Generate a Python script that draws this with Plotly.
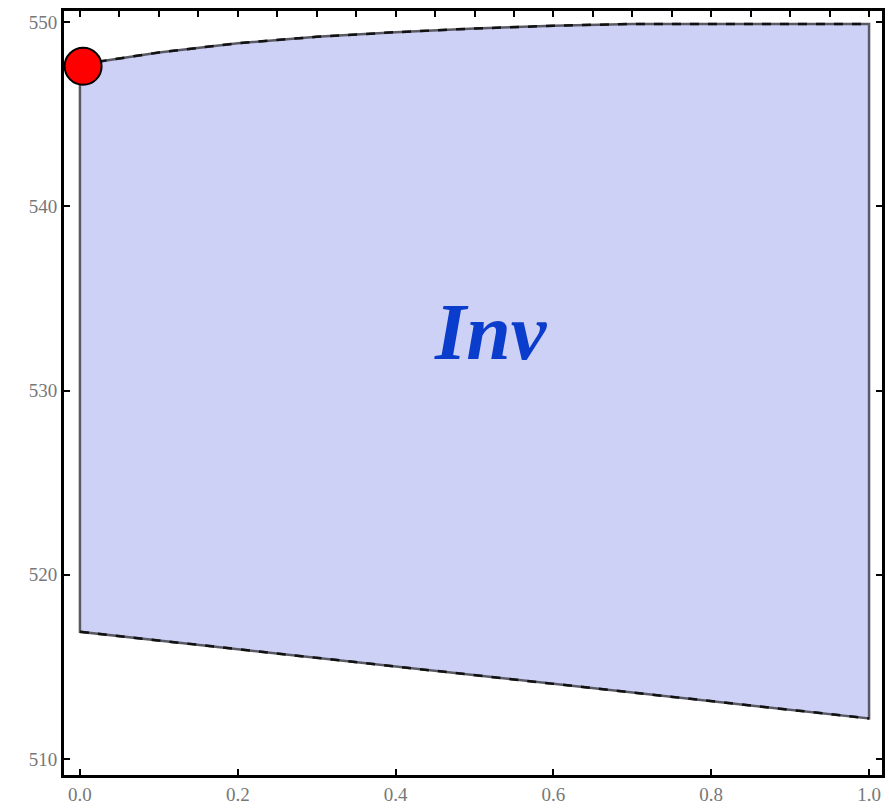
import plotly.graph_objects as go

# Upper boundary of the invariant region
top_x = [0.0, 0.1, 0.2, 0.3, 0.4, 0.5, 0.6, 0.7, 0.8, 0.9, 1.0]
top_y = [547.7, 548.35, 548.85, 549.2, 549.45, 549.65, 549.8, 549.9, 549.9, 549.9, 549.9]
# Lower boundary
bot_x = [0.0, 1.0]
bot_y = [516.9, 512.2]

point_x = [0.004]
point_y = [547.6]

x_ticks = [0.0, 0.2, 0.4, 0.6, 0.8, 1.0]
x_tick_labels = ["0.0", "0.2", "0.4", "0.6", "0.8", "1.0"]
y_ticks = [510, 520, 530, 540, 550]
y_tick_labels = ["510", "520", "530", "540", "550"]

poly_x = top_x + bot_x[::-1] + [top_x[0]]
poly_y = top_y + bot_y[::-1] + [top_y[0]]

fig = go.Figure()
fig.add_trace(go.Scatter(
    x=poly_x, y=poly_y, mode="lines", fill="toself",
    fillcolor="#cdd1f6", line=dict(color="#5a5a66", width=2.5),
    hoverinfo="skip", showlegend=False))
# dashed dark overlay on the curved edges
fig.add_trace(go.Scatter(
    x=top_x, y=top_y, mode="lines",
    line=dict(color="#111111", width=2.5, dash="dash"),
    hoverinfo="skip", showlegend=False))
fig.add_trace(go.Scatter(
    x=bot_x, y=bot_y, mode="lines",
    line=dict(color="#111111", width=2.5, dash="dash"),
    hoverinfo="skip", showlegend=False))
fig.add_trace(go.Scatter(
    x=point_x, y=point_y, mode="markers",
    marker=dict(color="#ff0000", size=37, line=dict(color="black", width=2)),
    cliponaxis=False, showlegend=False))
# invisible trace for top minor-tick axis
fig.add_trace(go.Scatter(x=[0, 1], y=[530, 530], xaxis="x2", mode="lines",
                         line=dict(width=0), hoverinfo="skip", showlegend=False))

fig.add_annotation(x=0.521, y=533.2, text="<b><i>Inv</i></b>", showarrow=False,
                   font=dict(family="Liberation Serif", size=80, color="#0b3dcc"))

tickfont = dict(family="Liberation Serif", size=19, color="#777777")
fig.update_layout(
    width=889, height=810,
    margin=dict(l=64, r=4, t=11, b=35),
    plot_bgcolor="white", paper_bgcolor="white",
    xaxis=dict(range=[-0.0202, 1.0164], tickvals=x_ticks, ticktext=x_tick_labels,
               ticks="inside", ticklen=6, tickwidth=2, tickcolor="black",
               showline=True, linecolor="black", linewidth=3, mirror=True,
               showgrid=False, zeroline=False, tickfont=tickfont),
    xaxis2=dict(range=[-0.0202, 1.0164], overlaying="x", side="top",
                tick0=0, dtick=0.05, ticks="inside", ticklen=6, tickwidth=2,
                tickcolor="black", showticklabels=False, showgrid=False,
                zeroline=False, showline=False),
    yaxis=dict(range=[509.13, 550.6], tickvals=y_ticks, ticktext=y_tick_labels,
               ticks="inside", ticklen=6, tickwidth=2, tickcolor="black",
               showline=True, linecolor="black", linewidth=3, mirror="ticks",
               showgrid=False, zeroline=False, tickfont=tickfont),
)

fig.write_html("out.html")
